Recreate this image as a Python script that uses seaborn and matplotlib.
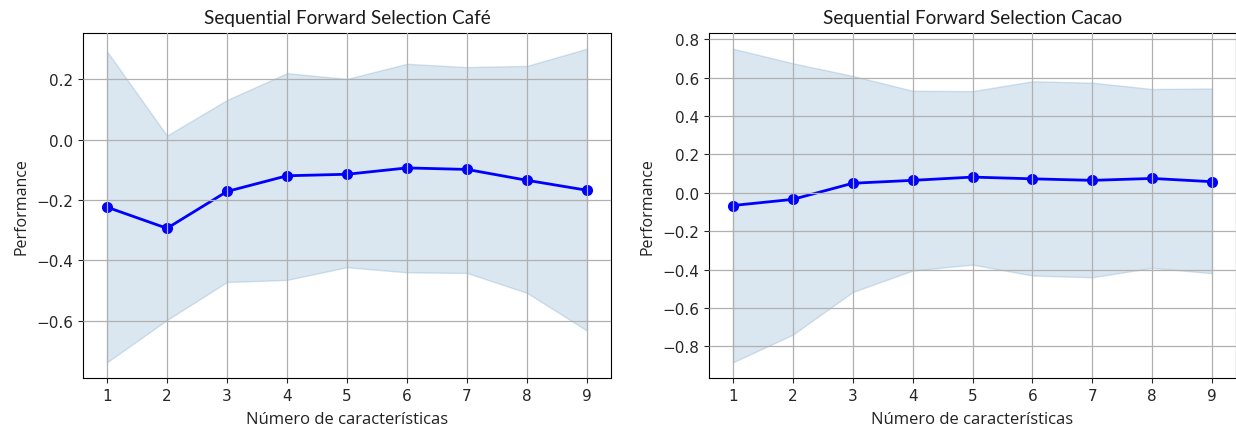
import matplotlib
matplotlib.use("Agg")
import matplotlib.pyplot as plt
import seaborn as sns
import pandas as pd

# Number of selected features
n_features = [1, 2, 3, 4, 5, 6, 7, 8, 9]

# Café: mean CV score and the band around it
cafe_mean = [-0.224, -0.294, -0.172, -0.120, -0.115, -0.094, -0.099, -0.135, -0.168]
cafe_upper = [0.292, 0.013, 0.131, 0.220, 0.201, 0.251, 0.240, 0.244, 0.301]
cafe_lower = [-0.738, -0.598, -0.472, -0.465, -0.423, -0.440, -0.442, -0.508, -0.633]

# Cacao: mean CV score and the band around it
cacao_mean = [-0.066, -0.034, 0.050, 0.065, 0.082, 0.073, 0.065, 0.075, 0.058]
cacao_upper = [0.751, 0.675, 0.609, 0.532, 0.530, 0.581, 0.574, 0.541, 0.544]
cacao_lower = [-0.883, -0.739, -0.517, -0.405, -0.374, -0.431, -0.440, -0.391, -0.419]

titles = ["Sequential Forward Selection Café", "Sequential Forward Selection Cacao"]
x_label = "Número de características"
y_label = "Performance"

plt.rcParams["font.family"] = ["DejaVu Sans"]
plt.rcParams["font.size"] = 11

label_font = ["Open Sans", "DejaVu Sans"]
title_font = ["Lato", "DejaVu Sans"]

fig = plt.figure(figsize=(12.36, 4.31), dpi=100)
ax_left = fig.add_axes([83 / 1236, 52 / 431, 528 / 1236, 345 / 431])
ax_right = fig.add_axes([709 / 1236, 52 / 431, 527 / 1236, 345 / 431])

panels = [
    (ax_left, cafe_mean, cafe_upper, cafe_lower, titles[0]),
    (ax_right, cacao_mean, cacao_upper, cacao_lower, titles[1]),
]

for ax, mean, upper, lower, title in panels:
    df = pd.DataFrame({"k": n_features, "score": mean})
    ax.fill_between(n_features, upper, lower, color="steelblue", alpha=0.2, lw=1)
    sns.lineplot(data=df, x="k", y="score", ax=ax, color="blue", marker="o",
                 markersize=8, markeredgewidth=0, linewidth=2)
    ax.set_xticks(n_features)
    ax.tick_params(labelsize=11, colors="#262626", labelcolor="#262626")
    ax.grid(True, color="#b0b0b0", linewidth=0.9)
    ax.set_axisbelow(False)
    ax.set_title(title, fontsize=13.6, family=title_font, color="#1a1a1a", pad=7)
    ax.set_xlabel(x_label, fontsize=12, family=label_font, color="#222222", labelpad=6)
    ax.set_ylabel(y_label, fontsize=11.5, family=label_font, color="#222222", labelpad=5)
    for s in ax.spines.values():
        s.set_color("black")

fig.savefig("out.png", dpi=100)
